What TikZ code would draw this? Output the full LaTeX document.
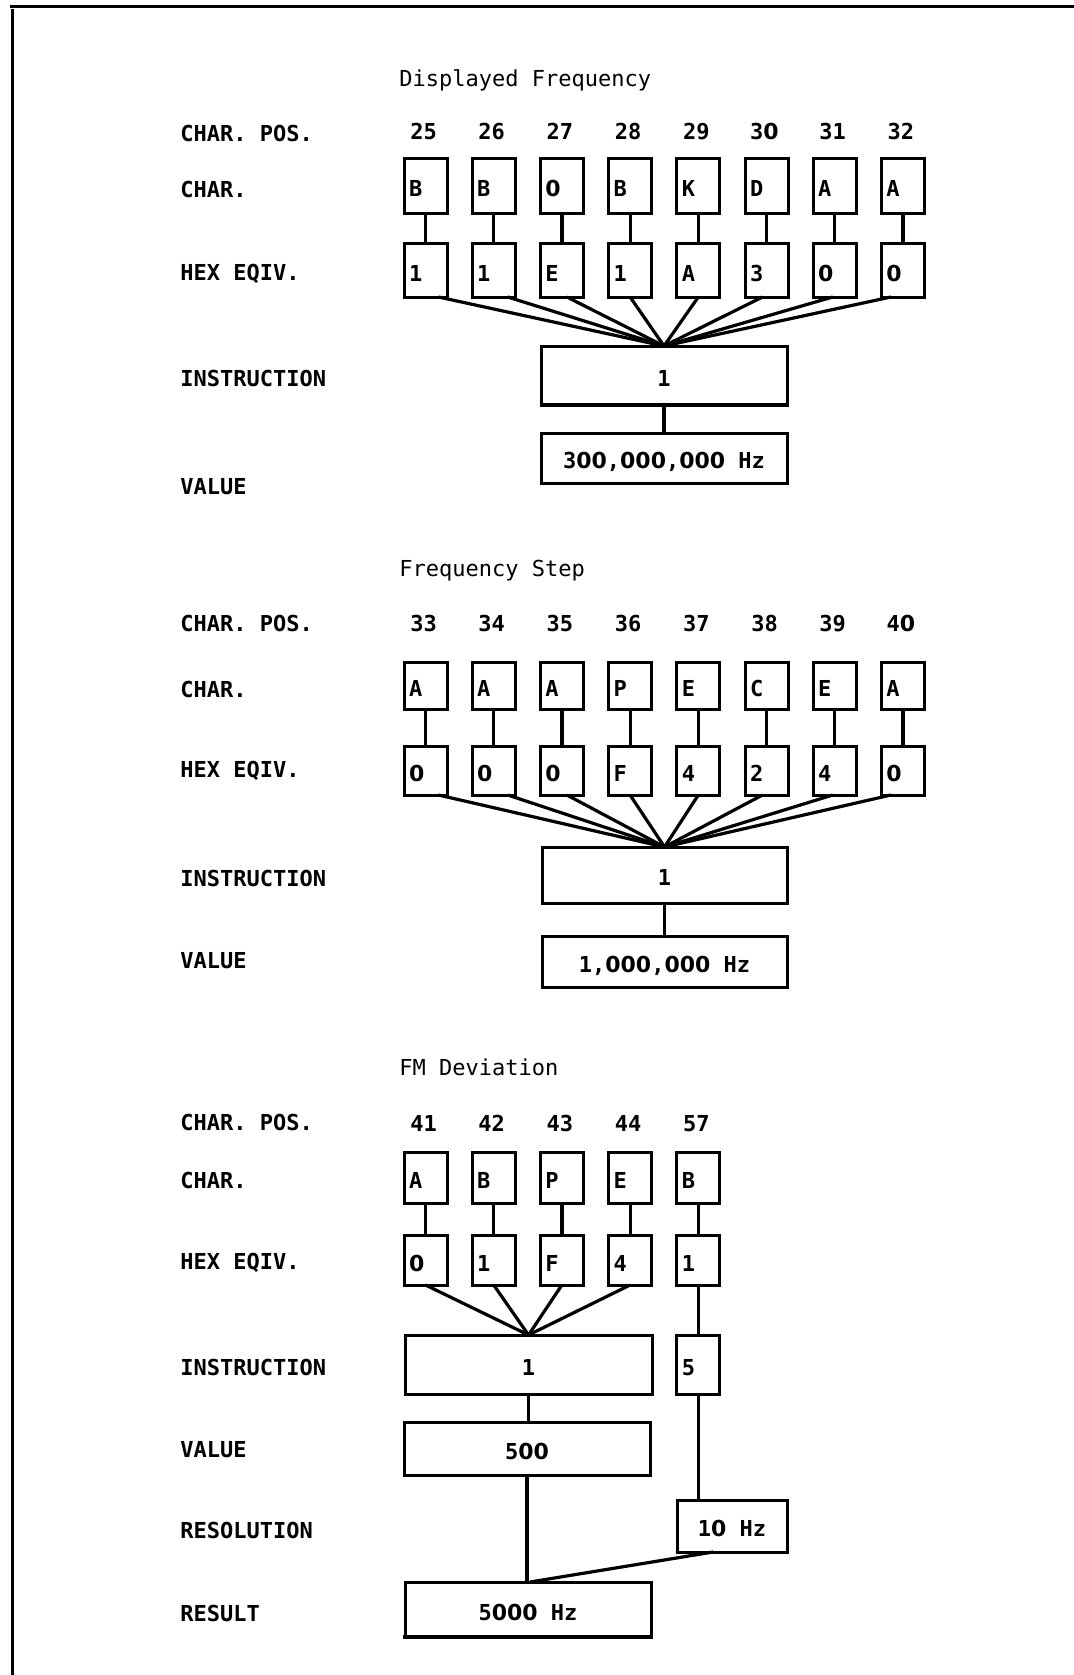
\documentclass[tikz,border=0pt]{standalone}
\usepackage{fontspec}
\setmainfont{DejaVu Sans Mono}
\newfontfamily\zerofont{DejaVu Sans}
\newcommand\Z{{\zerofont 0}}
\begin{document}
\begin{tikzpicture}[x=0.5pt,y=-0.5pt,
  every node/.style={font=\fontsize{11}{13}\selectfont\bfseries},
  lbl/.style={anchor=base west, inner sep=0pt},
  ttl/.style={anchor=base west, inner sep=0pt, font=\fontsize{11}{13}\selectfont},
  num/.style={anchor=base, inner sep=0pt},
  sbox/.style={draw, line width=1.5pt, inner xsep=2.5pt, inner ysep=0pt, outer sep=0pt,
               text width=16.5pt, align=left, minimum width=21.5pt, text height=11pt, text depth=0pt},
  wbox/.style={draw, line width=1.5pt, inner sep=0pt, outer sep=0pt,
               minimum width=123pt, text height=10.5pt, text depth=0pt},
  wire/.style={line width=1.6pt},
  heavy/.style={line width=2.4pt},
  frame/.style={line width=1.5pt}]
\useasboundingbox (0,0) rectangle (1074,1675);
\draw[frame] (10,7) -- (1074,7);
\draw[frame] (12,9) -- (12,1675);

% ---------------- Section 1: Displayed Frequency ----------------
\node[ttl] (t1) at (399,87) {Displayed Frequency};
\node[lbl] (l1a) at (180,141) {CHAR. POS.};
\node[lbl] (l1b) at (180,197) {CHAR.};
\node[lbl] (l1c) at (180,280) {HEX EQIV.};
\node[lbl] (l1d) at (180,386) {INSTRUCTION};
\node[lbl] (l1e) at (180,494) {VALUE};
\node[wbox, minimum height=29.5pt] (i1) at (664,375.5) {1};
\node[wbox, minimum height=25pt] (v1) at (664,458) {3\Z\Z,\Z\Z\Z,\Z\Z\Z\ Hz};
\draw[heavy] (i1.south west) -- (i1.south east);
\draw[wire] (i1.south) -- (i1.south |- v1.north);
\foreach \i/\p/\c/\h/\o in {0/25/B/1/13, 1/26/B/1/14, 2/27/\Z/E/5, 3/28/B/1/0,
                            4/29/K/A/0, 5/3\Z/D/3/-4, 6/31/A/\Z/-2, 7/32/A/\Z/-12} {
  \pgfmathsetmacro\xx{425.5+68.2*\i}
  \node[num] (p1\i) at (\xx-2,140) {\p};
  \node[sbox, minimum height=27.5pt] (c1\i) at (\xx,185.5) {\c};
  \node[sbox, minimum height=27pt] (h1\i) at (\xx,270) {\h};
  \draw[wire] (c1\i) -- (h1\i);
  \draw[wire] ([xshift=\o*0.5pt]h1\i.south) -- (i1.north);
}

% ---------------- Section 2: Frequency Step ----------------
\node[ttl] (t2) at (399,576) {Frequency Step};
\node[lbl] (l2a) at (180,631) {CHAR. POS.};
\node[lbl] (l2b) at (180,697) {CHAR.};
\node[lbl] (l2c) at (180,777) {HEX EQIV.};
\node[lbl] (l2d) at (180,886) {INSTRUCTION};
\node[lbl] (l2e) at (180,968) {VALUE};
\node[wbox, minimum width=122.5pt, minimum height=28pt] (i2) at (664.5,875) {1};
\node[wbox, minimum width=122.5pt, minimum height=25.5pt] (v2) at (664.5,961.5) {1,\Z\Z\Z,\Z\Z\Z\ Hz};
\draw[wire] (i2.south) -- (i2.south |- v2.north);
\foreach \i/\p/\c/\h/\o in {0/33/A/\Z/13, 1/34/A/\Z/14, 2/35/A/\Z/5, 3/36/P/F/0,
                            4/37/E/4/0, 5/38/C/2/-4, 6/39/E/4/-2, 7/4\Z/A/\Z/-12} {
  \pgfmathsetmacro\xx{425.5+68.2*\i}
  \node[num] (p2\i) at (\xx-2,631) {\p};
  \node[sbox, minimum height=23.5pt] (c2\i) at (\xx,685.5) {\c};
  \node[sbox, minimum height=24.5pt] (h2\i) at (\xx,770.5) {\h};
  \draw[wire] (c2\i) -- (h2\i);
  \draw[wire] ([xshift=\o*0.5pt]h2\i.south) -- (i2.north);
}

% ---------------- Section 3: FM Deviation ----------------
\node[ttl] (t3) at (399,1075) {FM Deviation};
\node[lbl] (l3a) at (180,1130) {CHAR. POS.};
\node[lbl] (l3b) at (180,1188) {CHAR.};
\node[lbl] (l3c) at (180,1269) {HEX EQIV.};
\node[lbl] (l3d) at (180,1375) {INSTRUCTION};
\node[lbl] (l3e) at (180,1457) {VALUE};
\node[lbl] (l3f) at (180,1538) {RESOLUTION};
\node[lbl] (l3g) at (180,1621) {RESULT};
\node[wbox, minimum width=123.5pt, minimum height=29.5pt] (i3) at (528.5,1364.5) {1};
\foreach \i/\p/\c/\h in {0/41/A/\Z, 1/42/B/1, 2/43/P/F, 3/44/E/4, 4/57/B/1} {
  \pgfmathsetmacro\xx{425.5+68.2*\i}
  \node[num] (p3\i) at (\xx-2,1131) {\p};
  \node[sbox, minimum height=25.5pt] (c3\i) at (\xx,1177.5) {\c};
  \node[sbox, minimum height=25pt] (h3\i) at (\xx,1260) {\h};
  \draw[wire] (c3\i) -- (h3\i);
}
\foreach \i in {0,1,2,3} {
  \draw[wire] (h3\i.south) -- (i3.north);
}
\node[sbox, minimum height=29.5pt] (five) at (698.3,1364.5) {5};
\node[wbox, minimum height=26.5pt] (v3) at (527,1448.5) {5\Z\Z};
\node[wbox, minimum width=55pt, minimum height=26pt] (res) at (732,1526) {1\Z\ Hz};
\node[wbox, minimum height=27.5pt] (out) at (528,1609.5) {5\Z\Z\Z\ Hz};
\draw[heavy] ([xshift=-1pt]out.south west) -- ([xshift=1pt]out.south east);
\draw[wire] (h34) -- (five);
\draw[wire] (i3.south) -- (i3.south |- v3.north);
\draw[wire] (five.south) -- (five.south |- res.north);
\draw[wire] (v3.south) -- (v3.south |- out.north);
\draw[wire] ([xshift=-9.5pt]res.south) -- ([xshift=1pt]out.north);
\end{tikzpicture}
\end{document}
